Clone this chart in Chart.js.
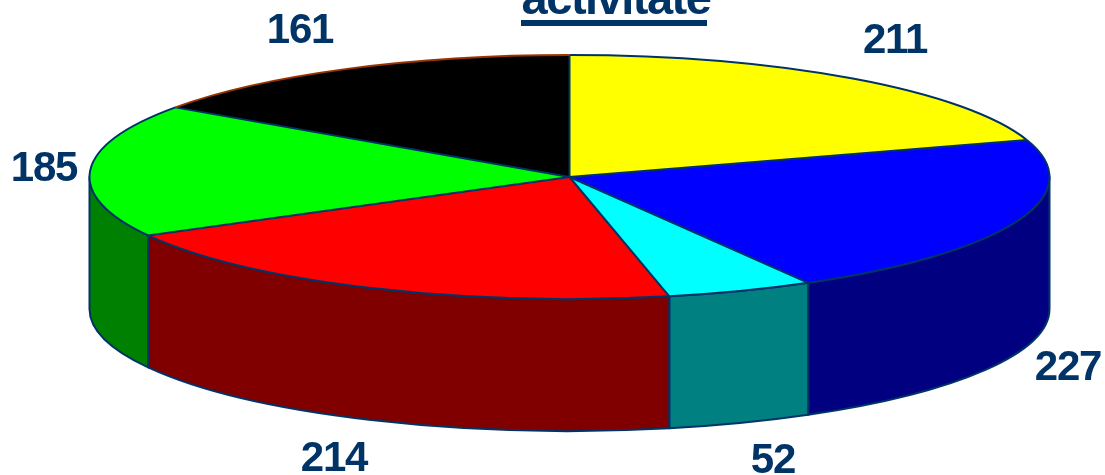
<!DOCTYPE html>
<html><head><meta charset="utf-8">
<style>html,body{margin:0;padding:0;background:#fff;overflow:hidden}canvas{display:block}</style>
<script src="https://cdn.jsdelivr.net/npm/chart.js@4"></script>
</head><body><canvas id="c" width="1105" height="475"></canvas>
<script>
const titleText = 'activitate';
const values = [211, 227, 52, 214, 185, 161];
const topColors = ['#ffff00', '#0000ff', '#00ffff', '#ff0000', '#00ff00', '#000000'];
const wallColors = ['#808000', '#000080', '#008080', '#800000', '#008000', '#000000'];
const rimColors = ['#003366', '#003366', '#003366', '#003366', '#003366', '#993300'];
const labelAnchors = [[895, 41], [1068, 368], [773, 461], [334, 459], [44, 169], [300, 31]];
const INK = '#003366';
const CX = 569.5, CY = 177, RX = 480, RY = 122, DEPTH = 132;

const pie3d = {
  id: 'pie3d',
  beforeDatasetsDraw(chart) {
    const ctx = chart.ctx, arcs = chart.getDatasetMeta(0).data;
    ctx.lineWidth = 2; ctx.strokeStyle = INK; ctx.lineJoin = 'round';
    arcs.forEach((a, i) => {
      const s = Math.max(a.startAngle, 0), e = Math.min(a.endAngle, Math.PI);
      if (e <= s) return;
      ctx.beginPath();
      ctx.ellipse(CX, CY, RX, RY, 0, s, e, false);
      ctx.ellipse(CX, CY + DEPTH, RX, RY, 0, e, s, true);
      ctx.closePath();
      ctx.fillStyle = wallColors[i];
      ctx.fill(); ctx.stroke();
    });
    const a0 = arcs[0];
    ctx.save();
    ctx.translate(CX, CY);
    ctx.scale(RX / a0.outerRadius, RY / a0.outerRadius);
    ctx.translate(-a0.x, -a0.y);
  },
  afterDatasetsDraw(chart) {
    const ctx = chart.ctx, arcs = chart.getDatasetMeta(0).data;
    ctx.restore();
    ctx.lineWidth = 2; ctx.lineJoin = 'round';
    arcs.forEach((a, i) => {
      ctx.strokeStyle = INK;
      ctx.beginPath();
      ctx.moveTo(CX, CY);
      ctx.lineTo(CX + RX * Math.cos(a.startAngle), CY + RY * Math.sin(a.startAngle));
      ctx.stroke();
      ctx.strokeStyle = rimColors[i];
      ctx.beginPath();
      ctx.ellipse(CX, CY, RX, RY, 0, a.startAngle, a.endAngle, false);
      ctx.stroke();
    });
    ctx.fillStyle = INK;
    ctx.font = 'bold 42px "Liberation Sans", Arial, sans-serif';
    ctx.letterSpacing = '-1.2px';
    ctx.textAlign = 'center';
    ctx.textBaseline = 'middle';
    values.forEach((v, i) => ctx.fillText(String(v), labelAnchors[i][0], labelAnchors[i][1]));
    ctx.textBaseline = 'alphabetic';
    ctx.font = 'bold 47px "Liberation Sans", Arial, sans-serif';
    ctx.letterSpacing = '-1.5px';
    ctx.fillText(titleText, 616, 14);
    ctx.letterSpacing = '0px';
    ctx.fillRect(521, 20, 186, 6);
  }
};

new Chart(document.getElementById('c'), {
  type: 'pie',
  data: {
    labels: values.map(String),
    datasets: [{ data: values, backgroundColor: topColors, borderWidth: 0 }]
  },
  options: {
    responsive: false,
    animation: false,
    rotation: 0,
    layout: { padding: { left: 31, right: 0, top: 0, bottom: 121 } },
    plugins: { legend: { display: false }, tooltip: { enabled: false }, title: { display: false } }
  },
  plugins: [pie3d]
});
</script></body></html>
